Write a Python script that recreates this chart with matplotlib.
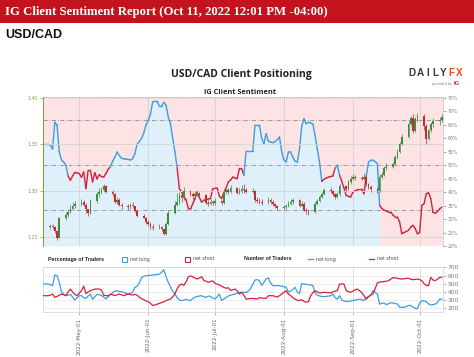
import numpy as np
import pandas as pd
import matplotlib
matplotlib.use("Agg")
import matplotlib.pyplot as plt
import matplotlib.dates as mdates
from matplotlib.patches import Rectangle
from matplotlib.lines import Line2D
from matplotlib.collections import LineCollection

# ---- data -------------------------------------------------------------
# USD/CAD daily candles (weekdays), open = previous close
candle_start, candle_end = "2022-04-18", "2022-10-11"
first_open = 1.2605
closes = [
    1.2620, 1.2610, 1.2560, 1.2490, 1.2700, 1.2740, 1.2770, 1.2800, 1.2840, 1.2860,
    1.2880, 1.2850, 1.2800, 1.2760, 1.2890, 1.2960, 1.2990, 1.3010, 1.3050, 1.2990, 1.2960,
    1.2880, 1.2900, 1.2850, 1.2830, 1.2820, 1.2850, 1.2830, 1.2780, 1.2730, 1.2710, 1.2660,
    1.2640, 1.2610, 1.2600, 1.2610, 1.2590, 1.2535, 1.2640, 1.2760, 1.2850, 1.2880, 1.2950,
    1.2920, 1.3000, 1.2960, 1.2940, 1.2960, 1.2980, 1.2950, 1.2870, 1.2860, 1.2880, 1.2870,
    1.2890, 1.2870, 1.2990, 1.3010, 1.2990, 1.3030, 1.2980, 1.3000, 1.3020, 1.3010, 1.2990,
    1.3000, 1.2900, 1.2890, 1.2880, 1.2870, 1.2900, 1.2880, 1.2860, 1.2830, 1.2810,
    1.2820, 1.2830, 1.2860, 1.2880, 1.2900, 1.2840, 1.2860, 1.2790, 1.2780, 1.2770, 1.2860,
    1.2890, 1.2930, 1.2960, 1.3010, 1.3000, 1.2960, 1.2930, 1.2960, 1.3050, 1.3020, 1.3090, 1.3130,
    1.3150, 1.3140, 1.3130, 1.3150, 1.3070, 1.3040, 1.3020, 1.3000, 1.3150, 1.3170, 1.3250,
    1.3260, 1.3290, 1.3360, 1.3420, 1.3500, 1.3580, 1.3720, 1.3780, 1.3640, 1.3770, 1.3810,
    1.3700, 1.3560, 1.3650, 1.3720, 1.3750, 1.3760, 1.3800,
]
highs = [
    1.2645, 1.2640, 1.2615, 1.2580, 1.2720, 1.2770, 1.2800, 1.2850, 1.2880, 1.2890,
    1.2910, 1.2900, 1.2870, 1.2800, 1.2910, 1.2990, 1.3030, 1.3040, 1.3076, 1.3060, 1.3010,
    1.2970, 1.2930, 1.2920, 1.2870, 1.2860, 1.2870, 1.2880, 1.2840, 1.2790, 1.2750, 1.2720,
    1.2680, 1.2660, 1.2640, 1.2640, 1.2620, 1.2600, 1.2660, 1.2790, 1.2890, 1.2980, 1.2990,
    1.2990, 1.3040, 1.3010, 1.2990, 1.3000, 1.3010, 1.2990, 1.2960, 1.2900, 1.2910, 1.2900,
    1.2920, 1.2900, 1.3020, 1.3050, 1.3030, 1.3060, 1.3040, 1.3030, 1.3060, 1.3070, 1.3030,
    1.3030, 1.3010, 1.2930, 1.2920, 1.2910, 1.2930, 1.2920, 1.2900, 1.2870, 1.2850,
    1.2850, 1.2860, 1.2890, 1.2910, 1.2920, 1.2910, 1.2890, 1.2880, 1.2810, 1.2800, 1.2880,
    1.2910, 1.2950, 1.2990, 1.3030, 1.3040, 1.3010, 1.2970, 1.2990, 1.3070, 1.3060, 1.3110, 1.3160,
    1.3180, 1.3170, 1.3160, 1.3190, 1.3170, 1.3080, 1.3060, 1.3040, 1.3180, 1.3200, 1.3270,
    1.3300, 1.3310, 1.3380, 1.3450, 1.3520, 1.3610, 1.3760, 1.3810, 1.3830, 1.3790, 1.3838,
    1.3830, 1.3720, 1.3670, 1.3740, 1.3780, 1.3790, 1.3830,
]
lows = [
    1.2590, 1.2585, 1.2540, 1.2465, 1.2485, 1.2680, 1.2720, 1.2760, 1.2790, 1.2810,
    1.2840, 1.2830, 1.2760, 1.2730, 1.2750, 1.2870, 1.2930, 1.2960, 1.2990, 1.2970, 1.2940,
    1.2870, 1.2860, 1.2830, 1.2800, 1.2790, 1.2800, 1.2810, 1.2770, 1.2720, 1.2700, 1.2640,
    1.2620, 1.2590, 1.2580, 1.2590, 1.2570, 1.2518, 1.2520, 1.2630, 1.2750, 1.2840, 1.2860,
    1.2880, 1.2900, 1.2940, 1.2900, 1.2920, 1.2940, 1.2920, 1.2860, 1.2840, 1.2850, 1.2850,
    1.2850, 1.2850, 1.2860, 1.2960, 1.2960, 1.2980, 1.2960, 1.2960, 1.2980, 1.2980, 1.2970,
    1.2970, 1.2880, 1.2870, 1.2860, 1.2850, 1.2860, 1.2860, 1.2840, 1.2810, 1.2790,
    1.2790, 1.2800, 1.2820, 1.2850, 1.2860, 1.2820, 1.2830, 1.2780, 1.2750, 1.2740, 1.2760,
    1.2850, 1.2880, 1.2920, 1.2950, 1.2970, 1.2940, 1.2910, 1.2920, 1.2940, 1.3000, 1.3010, 1.3070,
    1.3110, 1.3120, 1.3110, 1.3110, 1.3050, 1.3020, 1.2990, 1.2980, 1.2990, 1.3130, 1.3160,
    1.3220, 1.3250, 1.3280, 1.3340, 1.3410, 1.3490, 1.3570, 1.3700, 1.3620, 1.3630, 1.3740,
    1.3660, 1.3500, 1.3550, 1.3630, 1.3690, 1.3710, 1.3740,
]

# IG client sentiment, daily from Apr 15: % of traders net long
sent_start = "2022-04-15"
fill_end = "2022-09-13"
pct_long = [
    57.8, 57.8, 57.8, 57.5, 56.0, 66.0, 65.0, 55.0, 52.0, 51.2,
    50.0, 46.0, 44.4, 46.0, 47.3, 47.2, 46.9, 45.5, 47.5, 41.3,
    48.1, 48.1, 43.8, 47.3, 44.9, 46.5, 45.8, 45.6, 46.9, 48.5,
    49.5, 51.5, 53.0, 54.9, 53.6, 52.6, 52.4, 52.3, 52.2, 51.9,
    52.5, 54.3, 57.8, 58.8, 60.0, 62.0, 65.0, 66.7, 69.0, 73.5,
    73.8, 73.8, 72.0, 72.0, 73.4, 72.3, 68.0, 65.4, 60.0, 55.0,
    49.0, 41.3, 40.0, 38.5, 37.2, 34.0, 33.6, 35.7, 37.5, 40.0,
    38.0, 36.3, 37.0, 37.2, 37.5, 37.6, 41.3, 41.4, 41.5, 38.5,
    37.6, 40.0, 41.5, 43.8, 44.5, 45.6, 45.3, 45.0, 48.8, 48.7,
    46.3, 55.2, 55.2, 55.2, 55.2, 64.9, 64.9, 64.9, 60.0, 58.0,
    61.7, 59.0, 58.6, 58.4, 58.8, 59.5, 60.5, 55.0, 52.0, 51.2,
    54.9, 55.0, 53.0, 51.5, 51.2, 56.0, 64.5, 67.3, 65.4, 66.0,
    65.7, 65.4, 61.0, 56.0, 51.2, 44.0, 44.8, 45.2, 45.6, 45.8,
    46.0, 49.0, 50.0, 46.3, 44.0, 41.5, 38.8, 38.4, 38.2, 40.0,
    40.5, 40.9, 41.0, 41.0, 39.4, 46.0, 51.0, 52.0, 52.0, 51.3,
    50.6, 35.1, 34.0, 33.3, 33.0, 32.6, 32.6, 31.5, 30.8, 30.8,
    28.9, 24.6, 25.0, 25.4, 25.8, 27.0, 27.7, 26.5, 24.5, 25.0,
    35.1, 35.7, 39.4, 39.8, 37.6, 32.5, 32.2, 32.8, 33.8, 34.4,
]

# number of traders, daily from Apr 15
n_long = [
    496, 496, 496, 490, 476, 606, 600, 520, 400, 370,
    356, 360, 370, 340, 300, 330, 354, 354, 330, 320,
    350, 374, 310, 340, 370, 365, 356, 335, 315, 340,
    370, 390, 410, 414, 405, 403, 395, 385, 374, 385,
    395, 455, 470, 510, 575, 590, 598, 600, 603, 606,
    610, 613, 617, 640, 670, 590, 517, 460, 410, 374,
    330, 305, 295, 300, 310, 300, 293, 320, 336, 345,
    350, 354, 340, 334, 350, 345, 325, 315, 340, 374,
    295, 313, 330, 350, 360, 368, 374, 385, 395, 395,
    395, 395, 410, 440, 496, 545, 550, 537, 480, 515,
    560, 570, 510, 476, 476, 476, 476, 470, 462, 456,
    400, 410, 430, 456, 400, 380, 500, 498, 492, 488,
    484, 478, 390, 360, 350, 345, 342, 345, 350, 354,
    374, 330, 313, 354, 300, 290, 282, 285, 290, 295,
    300, 305, 313, 305, 293, 330, 345, 360, 415, 395,
    374, 252, 260, 264, 245, 255, 268, 265, 258, 252,
    215, 212, 212, 222, 235, 235, 215, 200, 195, 265,
    293, 288, 281, 255, 240, 245, 252, 270, 313, 310,
]
n_short = [
    354, 354, 354, 360, 374, 334, 345, 360, 374, 365,
    354, 400, 435, 400, 370, 354, 385, 415, 470, 380,
    400, 415, 425, 435, 435, 435, 420, 360, 354, 354,
    370, 365, 355, 365, 374, 365, 354, 365, 374, 368,
    362, 370, 360, 334, 320, 305, 290, 281, 260, 235,
    240, 250, 260, 270, 280, 293, 305, 313, 340, 374,
    440, 480, 496, 480, 520, 580, 595, 585, 570, 557,
    570, 585, 540, 530, 517, 527, 535, 505, 495, 485,
    470, 455, 445, 450, 420, 425, 435, 410, 374, 395,
    360, 313, 316, 319, 321, 317, 313, 330, 326, 322,
    321, 354, 354, 354, 345, 336, 355, 374, 395, 415,
    374, 355, 330, 313, 298, 295, 305, 285, 275, 280,
    354, 390, 415, 400, 387, 390, 395, 393, 390, 388,
    400, 410, 415, 496, 496, 496, 415, 405, 395, 410,
    425, 435, 415, 390, 354, 313, 340, 360, 374, 440,
    510, 520, 523, 525, 530, 537, 555, 575, 572, 566,
    560, 557, 560, 565, 566, 555, 549, 553, 557, 550,
    537, 500, 480, 476, 578, 545, 537, 555, 578, 580,
]

price_ticks = [1.25, 1.30, 1.35, 1.40]
pct_ticks = [20, 25, 30, 35, 40, 45, 50, 55, 60, 65, 70, 75]
count_ticks = [200, 300, 400, 500, 600, 700]
sentiment_levels = [100 / 3, 50, 200 / 3]

# ---- style --------------------------------------------------------------
W, H = 474, 357
PINK = "#fde3e3"
LIGHTBLUE = "#e0f0fb"
BLUE = "#3a9ee0"
RED = "#d2213c"
UP = "#3d8b3d"
DOWN = "#c62a30"
GREEN_AX = "#76a03a"
GRID = "#d4d4d4"


def fx(px):
    return px / W


def fy(py):
    return 1 - py / H


fig = plt.figure(figsize=(W / 100, H / 100), dpi=100)
fig.patch.set_facecolor("white")

# header band
fig.add_artist(Rectangle((0, fy(23)), 1, 23 / H, transform=fig.transFigure,
                         facecolor="#c3131c", edgecolor="none"))
fig.text(fx(5), fy(11.5), "IG Client Sentiment Report (Oct 11, 2022 12:01 PM -04:00)",
         color="white", fontsize=9.2, fontweight="bold", family="Liberation Serif",
         va="center", ha="left")
fig.text(fx(5), fy(35), "USD/CAD", fontsize=9, fontweight="bold",
         family="Liberation Sans", va="center", ha="left", color="#111111")

# chart titles
fig.text(fx(241), fy(74), "USD/CAD Client Positioning", fontsize=7.5,
         fontweight="bold", family="Open Sans", ha="center", va="center", color="#222222")
fig.text(fx(240), fy(92), "IG Client Sentiment", fontsize=5.3,
         fontweight="bold", family="Open Sans", ha="center", va="center", color="#222222")

# DailyFX logo
for i, ch in enumerate("DAILYFX"):
    fig.text(fx(412 + i * 7.9), fy(73), ch, fontsize=7.2, fontweight="bold",
             family="Liberation Sans", ha="center", va="center",
             color="#e8482c" if ch in "FX" else "#3a3a3a")
fig.text(fx(452), fy(83.5), "provided by", fontsize=2.8, color="#888888",
         ha="right", va="center", family="Liberation Sans")
fig.text(fx(454), fy(83.5), "IG", fontsize=4.2, fontweight="bold", color="#e0262e",
         ha="left", va="center", family="Liberation Sans")

# ---- main panel ------------------------------------------------------------
ax_pct = fig.add_axes([fx(43), fy(246), 400 / W, (246 - 97) / H])
ax = ax_pct.twinx()
ax.yaxis.tick_left()
ax_pct.yaxis.tick_right()
ax_pct.set_zorder(1)
ax.set_zorder(2)
ax.patch.set_visible(False)
ax_pct.patch.set_visible(True)
ax_pct.set_facecolor(PINK)

x0 = pd.Timestamp("2022-04-14 17:00")
x1 = pd.Timestamp("2022-10-11 12:00")
ax_pct.set_xlim(x0, x1)
ax_pct.set_ylim(20, 75.37)
ax.set_ylim(1.2403, 1.4011)

sdates = pd.date_range(sent_start, periods=len(pct_long), freq="D")
pct = np.array(pct_long)
ax_pct.fill_between(sdates, 20, pct, where=sdates <= pd.Timestamp(fill_end),
                    color=LIGHTBLUE, lw=0, zorder=1)

months = pd.date_range("2022-05-01", "2022-10-01", freq="MS")
for m in months:
    ax_pct.axvline(m, color=GRID, lw=0.6, zorder=2)
for lvl in sentiment_levels:
    ax_pct.axhline(lvl, color="#8c8c8c", lw=0.6, dashes=(5, 2, 1, 2), zorder=3)
for p in price_ticks[:-1]:
    ax.axhline(p, color=GRID, lw=0.6, zorder=0)
ax.axhline(1.40, color="#bdbdbd", lw=0.6, ls=":", zorder=0)

# sentiment line coloured by side
xs = mdates.date2num(sdates)
segs = [[(xs[i], pct[i]), (xs[i + 1], pct[i + 1])] for i in range(len(pct) - 1)]
seg_cols = [BLUE if max(pct[i], pct[i + 1]) >= 50 else RED for i in range(len(pct) - 1)]
ax_pct.add_collection(LineCollection(segs, colors=seg_cols, linewidths=1.0, zorder=4,
                                     capstyle="round", joinstyle="round"))

# candles
cdates = pd.bdate_range(candle_start, candle_end)
c = np.array(closes)
o = np.r_[first_open, c[:-1]]
cols = np.where(c >= o, UP, DOWN)
ax.vlines(cdates, lows, highs, colors=cols, lw=0.5, zorder=5)
body = np.maximum(np.abs(c - o), 0.0006)
ax.bar(cdates, body, bottom=np.minimum(o, c), width=0.75, color=cols, lw=0, zorder=6)

ax.set_yticks(price_ticks)
ax.set_yticklabels([f"{p:.2f}" for p in price_ticks])
ax.tick_params(axis="y", colors=GREEN_AX, labelsize=3.3, length=2, width=0.5, pad=1.5)
ax_pct.set_yticks(pct_ticks)
ax_pct.set_yticklabels([f"{p}%" for p in pct_ticks])
ax_pct.tick_params(axis="y", colors="#888888", labelcolor="#777777", labelsize=3.3,
                   length=2, width=0.5, pad=1.5)
for a in (ax, ax_pct):
    a.set_xticks([])
    for s in a.spines.values():
        s.set_visible(False)
ax.spines["left"].set_visible(True)
ax.spines["left"].set_color(GREEN_AX)
ax.spines["left"].set_linewidth(0.7)
ax_pct.spines["right"].set_visible(True)
ax_pct.spines["right"].set_color("#bbbbbb")
ax_pct.spines["right"].set_linestyle(":")
ax_pct.spines["right"].set_linewidth(0.6)
ax_pct.spines["top"].set_visible(True)
ax_pct.spines["top"].set_color("#bbbbbb")
ax_pct.spines["top"].set_linestyle(":")
ax_pct.spines["top"].set_linewidth(0.6)

# ---- legend row ------------------------------------------------------------
ly = fy(259)
fig.text(fx(48), ly, "Percentage of Traders", fontsize=3.8, fontweight="bold",
         family="Liberation Sans", va="center", color="#222222")
fig.add_artist(Rectangle((fx(122), fy(261.5)), 5 / W, 5 / H, transform=fig.transFigure,
                         facecolor="none", edgecolor=BLUE, lw=0.8))
fig.text(fx(130), ly, "net long", fontsize=4, family="Liberation Sans",
         va="center", color="#555555")
fig.add_artist(Rectangle((fx(185), fy(261.5)), 5 / W, 5 / H, transform=fig.transFigure,
                         facecolor="none", edgecolor=RED, lw=0.8))
fig.text(fx(193), ly, "net short", fontsize=4, family="Liberation Sans",
         va="center", color="#555555")
fig.text(fx(244), ly, "Number of Traders", fontsize=3.8, fontweight="bold",
         family="Liberation Sans", va="center", color="#222222")
fig.add_artist(Line2D([fx(308), fx(313)], [ly, ly], transform=fig.transFigure,
                      color=BLUE, lw=0.9))
fig.text(fx(316), ly, "net long", fontsize=4, family="Liberation Sans",
         va="center", color="#555555")
fig.add_artist(Line2D([fx(369), fx(374)], [ly, ly], transform=fig.transFigure,
                      color=RED, lw=0.9))
fig.text(fx(377), ly, "net short", fontsize=4, family="Liberation Sans",
         va="center", color="#555555")

# ---- lower panel: number of traders -----------------------------------------
ax_n = fig.add_axes([fx(43), fy(312), 400 / W, 45 / H])
ax_n.set_xlim(x0, x1)
ax_n.set_ylim(155, 704)
for m in months:
    ax_n.axvline(m, color=GRID, lw=0.6, zorder=0)
for t in count_ticks:
    ax_n.axhline(t, color="#e6e6e6", lw=0.5, zorder=0)
ax_n.plot(sdates, n_long, color=BLUE, lw=0.9, zorder=3)
ax_n.plot(sdates, n_short, color=RED, lw=0.9, zorder=3)
ax_n.yaxis.tick_right()
ax_n.set_yticks(count_ticks)
ax_n.tick_params(axis="y", colors="#999999", labelcolor="#777777", labelsize=4.3,
                 length=2, width=0.5, pad=1.5)
ax_n.xaxis.set_major_locator(mdates.MonthLocator(bymonthday=1))
ax_n.xaxis.set_major_formatter(mdates.DateFormatter("%Y-%b-%d"))
ax_n.tick_params(axis="x", colors="#999999", labelcolor="#666666", labelsize=4.1,
                 length=2, width=0.5, pad=2, labelrotation=90)
for s in ax_n.spines.values():
    s.set_color("#d8d8d8")
    s.set_linewidth(0.6)

fig.savefig("out.png", dpi=100)
